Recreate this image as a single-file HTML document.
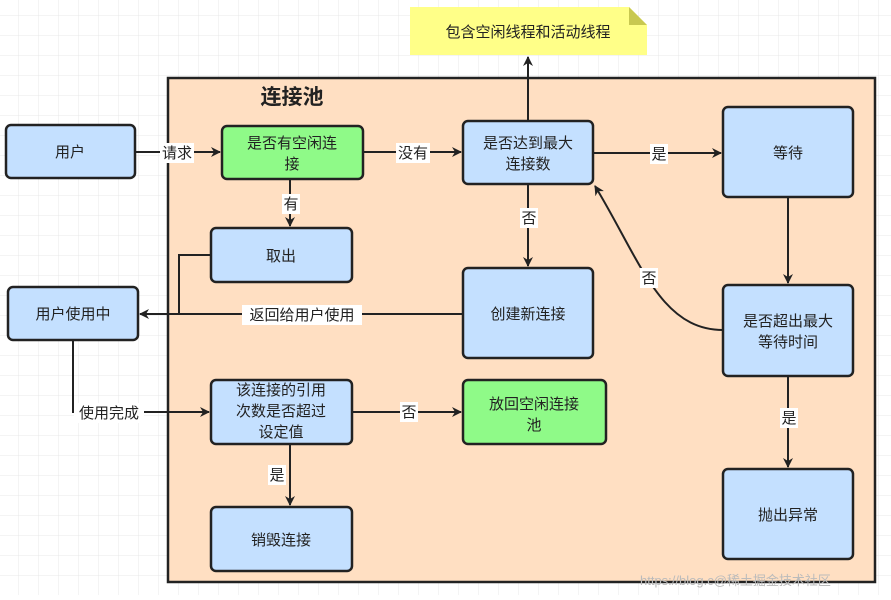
<!DOCTYPE html>
<html><head><meta charset="utf-8"><style>
html,body{margin:0;padding:0;background:#fff}
svg text{font-family:"Liberation Sans","Noto Sans CJK SC",sans-serif;font-size:15px;fill:#222}
</style></head><body>
<svg width="891" height="595" viewBox="0 0 891 595" xmlns="http://www.w3.org/2000/svg">
<defs>
<pattern id="g" width="20" height="20" patternUnits="userSpaceOnUse" x="-1" y="-4"><path d="M20 0V20M0 20H20" stroke="#e8e8e8" stroke-width="1" fill="none"/></pattern>
<marker id="a" markerWidth="10" markerHeight="10" refX="9" refY="5" orient="auto" markerUnits="userSpaceOnUse"><path d="M0 0L10 5L0 10L3 5Z" fill="#222"/></marker>
</defs>
<rect width="891" height="595" fill="url(#g)"/>
<rect x="168" y="78" width="707" height="504" fill="#ffdfc2" stroke="#222" stroke-width="2.5"/>
<text x="292" y="104" text-anchor="middle" style="font-size:21px;font-weight:bold">连接池</text>
<path d="M410 7H629L647 25V55H410Z" fill="#ffff88"/><path d="M629 7L647 25H629Z" fill="#c8c850"/>
<text x="528" y="37" text-anchor="middle">包含空闲线程和活动线程</text>
<g stroke="#222" stroke-width="2.5">
<rect x="6" y="125" width="129" height="53" rx="5" fill="#c4e0ff"/>
<rect x="222" y="126" width="141" height="53" rx="5" fill="#8ffa88"/>
<rect x="463" y="121" width="130" height="63" rx="5" fill="#c4e0ff"/>
<rect x="723" y="107" width="130" height="90" rx="5" fill="#c4e0ff"/>
<rect x="211" y="228" width="141" height="54" rx="5" fill="#c4e0ff"/>
<rect x="8" y="287" width="130" height="53" rx="5" fill="#c4e0ff"/>
<rect x="463" y="268" width="130" height="90" rx="5" fill="#c4e0ff"/>
<rect x="723" y="285" width="130" height="91" rx="5" fill="#c4e0ff"/>
<rect x="211" y="380" width="141" height="64" rx="5" fill="#c4e0ff"/>
<rect x="463" y="380" width="143" height="64" rx="5" fill="#8ffa88"/>
<rect x="211" y="507" width="141" height="64" rx="5" fill="#c4e0ff"/>
<rect x="723" y="469" width="130" height="90" rx="5" fill="#c4e0ff"/>
</g>
<g stroke="#222" stroke-width="2" fill="none" marker-end="url(#a)">
<path d="M135 152H220"/>
<path d="M363 152H461"/>
<path d="M528 121V57"/>
<path d="M593 153H721"/>
<path d="M528 184V266"/>
<path d="M788 197V283"/>
<path d="M723 330C660 330 640 260 595 186"/>
<path d="M290 179V226"/>
<path d="M463 314H140"/>
<path d="M73 340V412H209"/>
<path d="M352 412H461"/>
<path d="M290 444V505"/>
<path d="M788 376V467"/>
</g>
<path d="M211 255H179V314" stroke="#222" stroke-width="2" fill="none"/>
<g fill="#fff">
<rect x="160" y="143" width="34" height="20"/><rect x="396" y="143" width="34" height="20"/>
<rect x="650" y="144" width="18" height="20"/><rect x="520" y="208" width="18" height="20"/>
<rect x="640" y="268" width="18" height="20"/><rect x="282" y="194" width="18" height="20"/>
<rect x="242" y="305" width="120" height="20"/><rect x="74" y="403" width="70" height="20"/>
<rect x="400" y="402" width="18" height="20"/><rect x="268" y="465" width="18" height="20"/>
<rect x="780" y="408" width="18" height="20"/>
</g>
<g text-anchor="middle">
<text x="70" y="157">用户</text>
<text x="292" y="148">是否有空闲连</text><text x="292" y="169">接</text>
<text x="528" y="148">是否达到最大</text><text x="528" y="169">连接数</text>
<text x="788" y="158">等待</text>
<text x="281" y="261">取出</text>
<text x="73" y="319">用户使用中</text>
<text x="528" y="319">创建新连接</text>
<text x="788" y="326">是否超出最大</text><text x="788" y="347">等待时间</text>
<text x="281" y="395">该连接的引用</text><text x="281" y="416">次数是否超过</text><text x="281" y="437">设定值</text>
<text x="534" y="409">放回空闲连接</text><text x="534" y="430">池</text>
<text x="281" y="545">销毁连接</text>
<text x="788" y="520">抛出异常</text>
<text x="177" y="158">请求</text><text x="413" y="158">没有</text>
<text x="659" y="159">是</text><text x="529" y="223">否</text>
<text x="649" y="283">否</text><text x="291" y="209">有</text>
<text x="302" y="320">返回给用户使用</text><text x="109" y="418">使用完成</text>
<text x="409" y="417">否</text><text x="277" y="480">是</text>
<text x="789" y="423">是</text>
</g>
<text x="640" y="585" style="font-size:13px;fill:#bbb">https://blog.c@稀土掘金技术社区</text>
</svg>
</body></html>
